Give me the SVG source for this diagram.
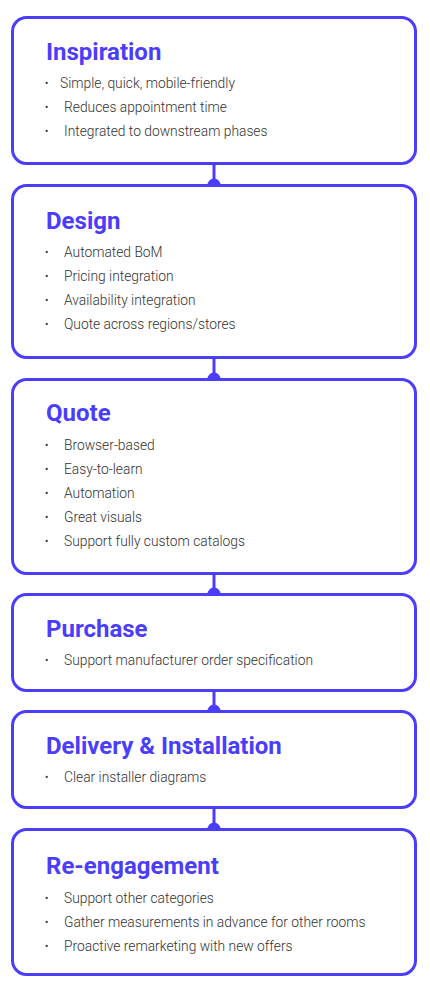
<svg xmlns="http://www.w3.org/2000/svg" width="430" height="996" viewBox="0 0 430 996">
<style>
.box{fill:#fff;stroke:#4b3dfc;stroke-width:3}
.t{font-family:Roboto,"Liberation Sans",sans-serif;font-weight:700;font-size:24px;fill:#4b3dfc}
.b{font-family:Roboto,"Liberation Sans",sans-serif;font-weight:300;font-size:13.8px;fill:#333}
.d{font-family:Roboto,"Liberation Sans",sans-serif;font-size:10px;fill:#333}
.c{stroke:#4b3dfc;stroke-width:3}
.dot{fill:#4b3dfc}
</style>
<rect width="430" height="996" fill="#fff"/>
<g id="connectors">
<line class="c" x1="214" y1="164" x2="214" y2="185"/><circle class="dot" cx="214" cy="185" r="6.5"/>
<line class="c" x1="214" y1="358" x2="214" y2="379"/><circle class="dot" cx="214" cy="379" r="6.5"/>
<line class="c" x1="214" y1="574" x2="214" y2="594"/><circle class="dot" cx="214" cy="594" r="6.5"/>
<line class="c" x1="214" y1="691" x2="214" y2="711"/><circle class="dot" cx="214" cy="711" r="6.5"/>
<line class="c" x1="214" y1="808" x2="214" y2="829"/><circle class="dot" cx="214" cy="829" r="6.5"/>
</g>
<g id="inspiration">
<rect class="box" x="12.5" y="17.5" width="403" height="146" rx="14"/>
<text class="t" x="46" y="60">Inspiration</text>
<text class="d" x="45" y="87">•</text><text class="b" x="60" y="88">Simple, quick, mobile-friendly</text>
<text class="d" x="45" y="111">•</text><text class="b" x="64" y="112">Reduces appointment time</text>
<text class="d" x="45" y="135">•</text><text class="b" x="64" y="136">Integrated to downstream phases</text>
</g>
<g id="design">
<rect class="box" x="12.5" y="185.5" width="403" height="172" rx="14"/>
<text class="t" x="46" y="229">Design</text>
<text class="d" x="45" y="256">•</text><text class="b" x="64" y="257">Automated BoM</text>
<text class="d" x="45" y="280">•</text><text class="b" x="64" y="281">Pricing integration</text>
<text class="d" x="45" y="304">•</text><text class="b" x="64" y="305">Availability integration</text>
<text class="d" x="45" y="328">•</text><text class="b" x="64" y="329">Quote across regions/stores</text>
</g>
<g id="quote">
<rect class="box" x="12.5" y="379.5" width="403" height="194" rx="14"/>
<text class="t" x="46" y="421">Quote</text>
<text class="d" x="45" y="449">•</text><text class="b" x="64" y="450">Browser-based</text>
<text class="d" x="45" y="473">•</text><text class="b" x="64" y="474">Easy-to-learn</text>
<text class="d" x="45" y="497">•</text><text class="b" x="64" y="498">Automation</text>
<text class="d" x="45" y="521">•</text><text class="b" x="64" y="522">Great visuals</text>
<text class="d" x="45" y="545">•</text><text class="b" x="64" y="546">Support fully custom catalogs</text>
</g>
<g id="purchase">
<rect class="box" x="12.5" y="594.5" width="403" height="96" rx="14"/>
<text class="t" x="46" y="637">Purchase</text>
<text class="d" x="45" y="664">•</text><text class="b" x="64" y="665">Support manufacturer order specification</text>
</g>
<g id="delivery">
<rect class="box" x="12.5" y="711.5" width="403" height="96" rx="14"/>
<text class="t" x="46" y="754">Delivery &amp; Installation</text>
<text class="d" x="45" y="781">•</text><text class="b" x="64" y="782">Clear installer diagrams</text>
</g>
<g id="reengagement">
<rect class="box" x="12.5" y="829.5" width="403" height="145" rx="14"/>
<text class="t" x="46" y="874">Re-engagement</text>
<text class="d" x="45" y="902">•</text><text class="b" x="64" y="903">Support other categories</text>
<text class="d" x="45" y="926">•</text><text class="b" x="64" y="927">Gather measurements in advance for other rooms</text>
<text class="d" x="45" y="950">•</text><text class="b" x="64" y="951">Proactive remarketing with new offers</text>
</g>
</svg>
